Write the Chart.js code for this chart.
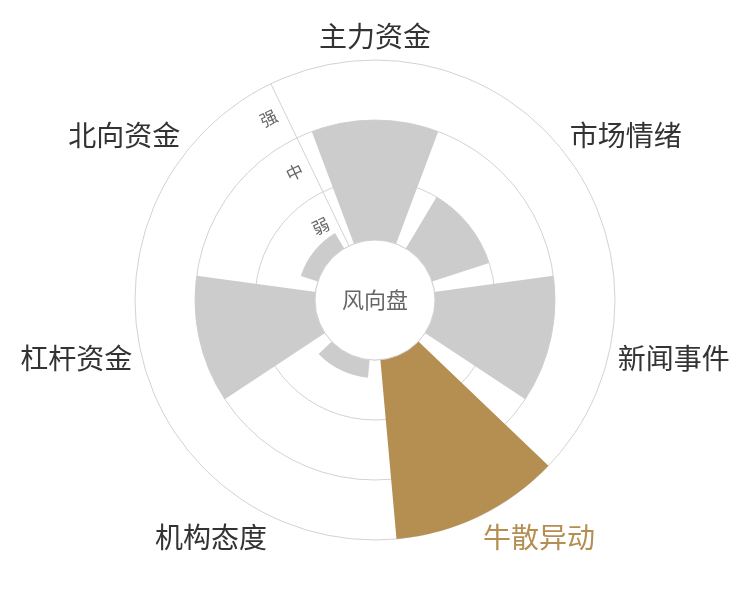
<!DOCTYPE html>
<html>
<head>
<meta charset="utf-8">
<script src="https://cdn.jsdelivr.net/npm/chart.js@4/dist/chart.umd.min.js"></script>
<style>
    html, body { margin: 0; padding: 0; background: #fff; }
    #box { width: 750px; height: 600px; }
</style>
</head>
<body>
<div id="box"><canvas id="chartRose"></canvas></div>
<script>
// categorias, em sentido horário a partir do topo
const categorias = ["主力资金", "市场情绪", "新闻事件", "牛散异动", "机构态度", "杠杆资金", "北向资金"];
const forca = [2, 1, 2, 3, 0.3, 2, 0.3]; // 0 = borda do furo, 3 = anel externo
const niveis = ["弱", "中", "强"];
const destaque = "牛散异动";
const tituloCentro = "风向盘";

const corBarra = "#cccccc";
const corDestaque = "#b48f51";
const corGrade = "#d2d2d2";
const fonteCJK = '"Noto Sans CJK SC", "Noto Sans", sans-serif';

// cada barra ocupa 80% do setor, o resto vira espaço (metade de cada lado)
const setor = 360 / categorias.length;
const anguloBarra = setor * 0.8;
const anguloGap = setor - anguloBarra;

// monta a sequência: meio gap, barra, gap, barra, ..., barra, meio gap
const rotulos = [""];
const valores = [-1];
const angulos = [anguloGap / 2];
const cores = ["transparent"];
categorias.forEach((cat, i) => {
    rotulos.push(cat);
    valores.push(forca[i]);
    angulos.push(anguloBarra);
    cores.push(cat === destaque ? corDestaque : corBarra);
    rotulos.push("");
    valores.push(-1);
    angulos.push(i === categorias.length - 1 ? anguloGap / 2 : anguloGap);
    cores.push("transparent");
});

// furo central + textos (categorias e níveis)
const pluginTextos = {
    id: "textos",
    afterDatasetsDraw(chart) {
        const ctx = chart.ctx;
        const scale = chart.scales.r;
        const cx = scale.xCenter;
        const cy = scale.yCenter;
        const raioFuro = scale.getDistanceFromCenterForValue(0);

        ctx.save();
        ctx.beginPath();
        ctx.arc(cx, cy, raioFuro, 0, Math.PI * 2);
        ctx.fillStyle = "#fff";
        ctx.fill();
        ctx.lineWidth = 1;
        ctx.strokeStyle = "#d0d0d0";
        ctx.stroke();

        ctx.fillStyle = "#666";
        ctx.font = "22px " + fonteCJK;
        ctx.textAlign = "center";
        ctx.textBaseline = "middle";
        ctx.fillText(tituloCentro, cx, cy);

        // níveis ao lado da linha do eixo
        const rot = scale.getIndexAngle(0);
        ctx.translate(cx, cy);
        ctx.rotate(rot);
        ctx.font = "17px " + fonteCJK;
        ctx.fillStyle = "#666";
        niveis.forEach((txt, i) => {
            const r = scale.getDistanceFromCenterForValue(i + 0.5);
            ctx.fillText(txt, -17, -r);
        });
        ctx.restore();

        // rótulos das categorias
        const meta = chart.getDatasetMeta(0);
        const raioExt = scale.drawingArea + 9;
        ctx.save();
        ctx.font = "28px " + fonteCJK;
        ctx.textBaseline = "middle";
        categorias.forEach((cat, i) => {
            const arco = meta.data[1 + i * 2];
            const meio = (arco.startAngle + arco.endAngle) / 2;
            const dx = Math.cos(meio);
            const dy = Math.sin(meio);
            ctx.textAlign = dx > 0.05 ? "left" : (dx < -0.05 ? "right" : "center");
            ctx.fillStyle = cat === destaque ? corDestaque : "#333";
            ctx.fillText(cat, cx + raioExt * dx, cy + (raioExt + 15) * dy);
        });
        ctx.restore();
    }
};

const chartRose = new Chart(document.getElementById("chartRose").getContext("2d"), {
    type: "polarArea",
    data: {
        labels: rotulos,
        datasets: [{
            data: valores,
            backgroundColor: cores,
            borderWidth: 0,
            angle: (c) => angulos[c.dataIndex]
        }]
    },
    options: {
        responsive: true,
        maintainAspectRatio: false,
        animation: false,
        layout: {
            padding: { top: 60, bottom: 60, left: 60, right: 60 }
        },
        plugins: {
            legend: { display: false },
            tooltip: { enabled: false }
        },
        events: [],
        scales: {
            r: {
                min: -1,
                max: 3,
                startAngle: -setor / 2,
                ticks: { display: false, stepSize: 1 },
                grid: { color: corGrade, lineWidth: 1 },
                angleLines: {
                    display: true,
                    color: (c) => c.index === 0 ? corGrade : "transparent",
                    lineWidth: (c) => c.index === 0 ? 1 : 0
                },
                pointLabels: { display: false }
            }
        }
    },
    plugins: [pluginTextos]
});
</script>
</body>
</html>
